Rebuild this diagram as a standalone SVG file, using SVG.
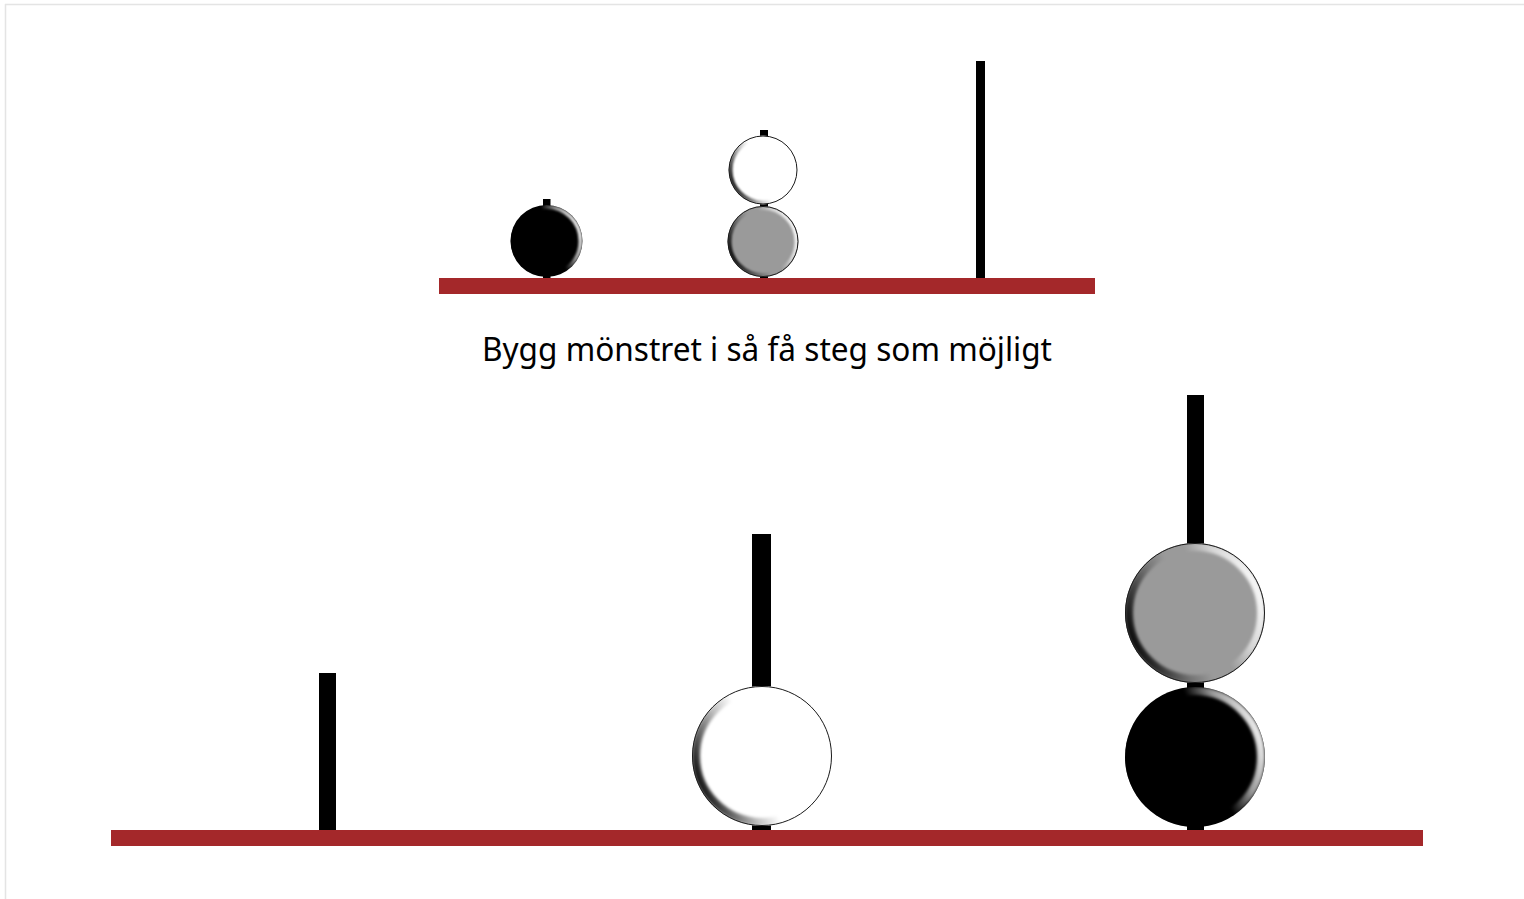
<svg xmlns="http://www.w3.org/2000/svg" width="1524" height="899" viewBox="0 0 1524 899">
  <defs>
    <style>
      .board { fill: #a4282a; }
      .peg { fill: #000; }
      .edge { stroke: #e4e4e4; stroke-width: 1.5; fill: none; }
      .caption { font-family: "Noto Sans", "Open Sans", sans-serif; font-size: 32px; fill: #000; }
      .rim { fill: none; stroke: #1a1a1a; stroke-width: 1; }
    </style>
    <!-- light from the right, shade toward the left and lower left -->
    <linearGradient id="bevel" x1="0" y1="0.7" x2="1" y2="0.3">
      <stop offset="0" stop-color="#000" stop-opacity="0.95"/>
      <stop offset="0.3" stop-color="#000" stop-opacity="0.25"/>
      <stop offset="0.45" stop-color="#000" stop-opacity="0"/>
      <stop offset="0.6" stop-color="#fff" stop-opacity="0"/>
      <stop offset="0.78" stop-color="#fff" stop-opacity="0.6"/>
      <stop offset="1" stop-color="#fff" stop-opacity="0.95"/>
    </linearGradient>
    <filter id="soft" x="-10%" y="-10%" width="120%" height="120%">
      <feGaussianBlur stdDeviation="1.4"/>
    </filter>
    <filter id="softSmall" x="-10%" y="-10%" width="120%" height="120%">
      <feGaussianBlur stdDeviation="0.8"/>
    </filter>
    <clipPath id="clipL1"><circle cx="1195" cy="613" r="70"/></clipPath>
    <clipPath id="clipL2"><circle cx="1195" cy="757" r="70"/></clipPath>
    <clipPath id="clipL3"><circle cx="762" cy="756" r="70"/></clipPath>
    <clipPath id="clipS1"><circle cx="546.5" cy="241" r="36"/></clipPath>
    <clipPath id="clipS2"><circle cx="763" cy="241.5" r="35.5"/></clipPath>
    <clipPath id="clipS3"><circle cx="763" cy="170" r="34.5"/></clipPath>
  </defs>

  <!-- page edge -->
  <g id="page-edge">
    <line class="edge" x1="5" y1="4.5" x2="1524" y2="4.5"/>
    <line class="edge" x1="5.5" y1="4" x2="5.5" y2="899"/>
  </g>

  <!-- target pattern (small) -->
  <g id="target">
    <g id="target-pegs">
      <rect class="peg" x="543" y="199" width="7.5" height="80"/>
      <rect class="peg" x="760" y="130" width="8" height="149"/>
      <rect class="peg" x="976" y="61" width="9" height="218"/>
    </g>
    <rect id="target-board" class="board" x="439" y="278" width="656" height="16"/>
    <g id="target-black">
      <circle cx="546.5" cy="241" r="36" fill="#000"/>
      <circle cx="546.5" cy="241" r="34" fill="none" stroke="url(#bevel)" stroke-width="4" filter="url(#softSmall)" clip-path="url(#clipS1)"/>
    </g>
    <g id="target-grey">
      <circle cx="763" cy="241.5" r="35.5" fill="#9a9a9a"/>
      <circle cx="763" cy="241.5" r="33.5" fill="none" stroke="url(#bevel)" stroke-width="4" filter="url(#softSmall)" clip-path="url(#clipS2)"/>
      <circle class="rim" cx="763" cy="241.5" r="35"/>
    </g>
    <g id="target-white">
      <circle cx="763" cy="170" r="34.5" fill="#fff"/>
      <circle cx="763" cy="170" r="32.5" fill="none" stroke="url(#bevel)" stroke-width="4" filter="url(#softSmall)" clip-path="url(#clipS3)"/>
      <circle class="rim" cx="763" cy="170" r="34"/>
    </g>
  </g>

  <text id="caption" class="caption" x="767" y="361" text-anchor="middle" textLength="570" lengthAdjust="spacingAndGlyphs">Bygg mönstret i så få steg som möjligt</text>

  <!-- working board (large) -->
  <g id="board">
    <g id="pegs">
      <rect class="peg" x="319" y="673" width="17" height="158"/>
      <rect class="peg" x="752" y="534" width="19" height="297"/>
      <rect class="peg" x="1187" y="395" width="17" height="436"/>
    </g>
    <rect id="main-board" class="board" x="111" y="830" width="1312" height="16"/>
    <g id="ball-white">
      <circle cx="762" cy="756" r="70" fill="#fff"/>
      <circle cx="762" cy="756" r="66" fill="none" stroke="url(#bevel)" stroke-width="8" filter="url(#soft)" clip-path="url(#clipL3)"/>
      <circle class="rim" cx="762" cy="756" r="69.5"/>
    </g>
    <g id="ball-black">
      <circle cx="1195" cy="757" r="70" fill="#000"/>
      <circle cx="1195" cy="757" r="66" fill="none" stroke="url(#bevel)" stroke-width="8" filter="url(#soft)" clip-path="url(#clipL2)"/>
    </g>
    <g id="ball-grey">
      <circle cx="1195" cy="613" r="70" fill="#9a9a9a"/>
      <circle cx="1195" cy="613" r="66" fill="none" stroke="url(#bevel)" stroke-width="8" filter="url(#soft)" clip-path="url(#clipL1)"/>
      <circle class="rim" cx="1195" cy="613" r="69.5"/>
    </g>
  </g>
</svg>
